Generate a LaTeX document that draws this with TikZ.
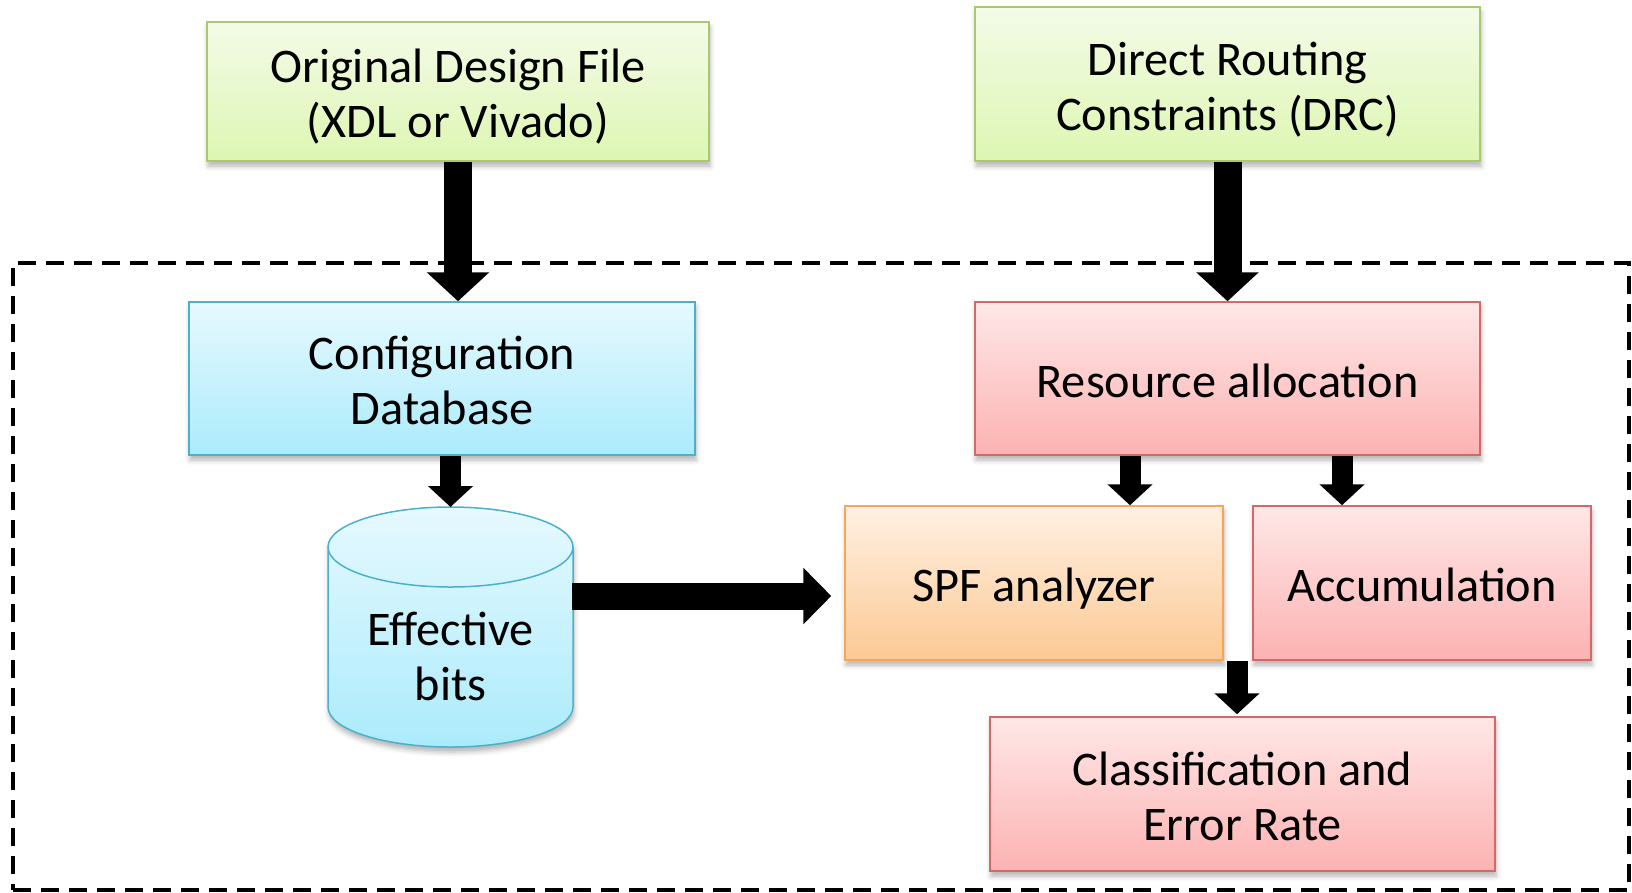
\documentclass[tikz,border=0pt]{standalone}
\usepackage{fontspec}
\setmainfont{Carlito}
\usetikzlibrary{arrows.meta,shadows.blur}

\definecolor{greenTop}{HTML}{F4FBE8}
\definecolor{greenBot}{HTML}{DDF6B2}
\definecolor{greenLine}{HTML}{A8C96C}
\definecolor{blueTop}{HTML}{E6F9FE}
\definecolor{blueBot}{HTML}{ABEBFC}
\definecolor{blueLine}{HTML}{4DB0CB}
\definecolor{redTop}{HTML}{FFE7E7}
\definecolor{redBot}{HTML}{FCB2B2}
\definecolor{redLine}{HTML}{D46767}
\definecolor{orangeTop}{HTML}{FFF0E2}
\definecolor{orangeBot}{HTML}{FCC994}
\definecolor{orangeLine}{HTML}{F6A656}

% line strut: every text line gets the same height and depth
\newcommand\lnstrut{\rule[-9pt]{0pt}{55pt}}

\begin{document}
\begin{tikzpicture}[x=1pt,y=-1pt,
  txt/.style={inner sep=0pt, align=center, font=\fontsize{48.3}{55}\selectfont},
  box/.style={txt, draw, line width=1.5pt,
    blur shadow={shadow xshift=1pt, shadow yshift=-5pt, shadow blur radius=5pt, shadow opacity=30}},
  greenbox/.style={box, draw=greenLine, top color=greenTop, bottom color=greenBot},
  bluebox/.style={box, draw=blueLine, top color=blueTop, bottom color=blueBot},
  redbox/.style={box, draw=redLine, top color=redTop, bottom color=redBot},
  orangebox/.style={box, draw=orangeLine, top color=orangeTop, bottom color=orangeBot},
  fatarrow/.style={draw=black, line width=28pt, -{Triangle[width=61pt,length=29pt]}},
  thinarrow/.style={draw=black, line width=21pt, -{Triangle[width=44pt,length=21pt]}},
  sidearrow/.style={draw=black, line width=27pt, -{Triangle[width=55pt,length=28pt]}},
  frame/.style={draw=black, line width=3.5pt, dash pattern=on 18pt off 10pt, inner sep=0pt}
]
\useasboundingbox (0,0) rectangle (1632,892);

% dashed boundary of the analysis stage
\node[frame, minimum width=1616pt, minimum height=627pt] (stage) at (821,576.5) {};

% inputs
\node[greenbox, minimum width=502pt, minimum height=139pt] (orig) at (458,91.5)
  {\lnstrut Original Design File\\\lnstrut (XDL or Vivado)};
\node[greenbox, minimum width=505pt, minimum height=154pt] (drc) at (1227.5,84)
  {\lnstrut Direct Routing\\\lnstrut Constraints (DRC)};

% processing blocks
\node[bluebox, minimum width=506pt, minimum height=153pt] (config) at (442,378.5)
  {\lnstrut Configuration\\\lnstrut Database};
\node[redbox, minimum width=505pt, minimum height=153pt] (res) at (1227.5,378.5)
  {\lnstrut Resource allocation};
\node[orangebox, minimum width=378pt, minimum height=154pt] (spf) at (1034,583)
  {\lnstrut SPF analyzer};
\node[redbox, minimum width=338pt, minimum height=154pt] (acc) at (1422,583)
  {\lnstrut Accumulation};
\node[redbox, minimum width=505pt, minimum height=154pt] (cls) at (1242.5,794)
  {\lnstrut Classification and\\\lnstrut Error Rate};

% database cylinder
\path[blur shadow={shadow xshift=1pt, shadow yshift=-5pt, shadow blur radius=5pt, shadow opacity=30},
      top color=blueTop, bottom color=blueBot]
  (328,547) -- (328,707)
  arc[start angle=180, end angle=360, x radius=122.5pt, y radius=40pt]
  -- (573,547)
  arc[start angle=0, end angle=180, x radius=122.5pt, y radius=40pt] -- cycle;
\draw[blueLine, line width=1.5pt]
  (328,547) -- (328,707)
  arc[start angle=180, end angle=360, x radius=122.5pt, y radius=40pt]
  -- (573,547)
  arc[start angle=0, end angle=180, x radius=122.5pt, y radius=40pt]
  arc[start angle=180, end angle=360, x radius=122.5pt, y radius=40pt];
\node[txt] (bits) at (450.5,654.5) {\lnstrut Effective\\\lnstrut bits};
\coordinate (cyltop) at (450.5,507);
\coordinate (cylright) at (572,596);

% connectors
\draw[fatarrow] (orig.south) -- (orig.south |- config.north);
\draw[fatarrow] (drc.south) -- (drc.south |- res.north);
\draw[thinarrow] (cyltop |- config.south) -- (cyltop);
\draw[sidearrow] (cylright) -- ([xshift=-13pt]spf.west |- cylright);
\draw[thinarrow] ([xshift=-97.5pt]res.south) -- ([xshift=-97.5pt]res.south |- spf.north);
\draw[thinarrow] ([xshift=114.5pt]res.south) -- ([xshift=114.5pt]res.south |- acc.north);
\draw[thinarrow] ([xshift=-5.5pt]cls.north |- spf.south) -- ([xshift=-5.5pt,yshift=2pt]cls.north);
\end{tikzpicture}
\end{document}
